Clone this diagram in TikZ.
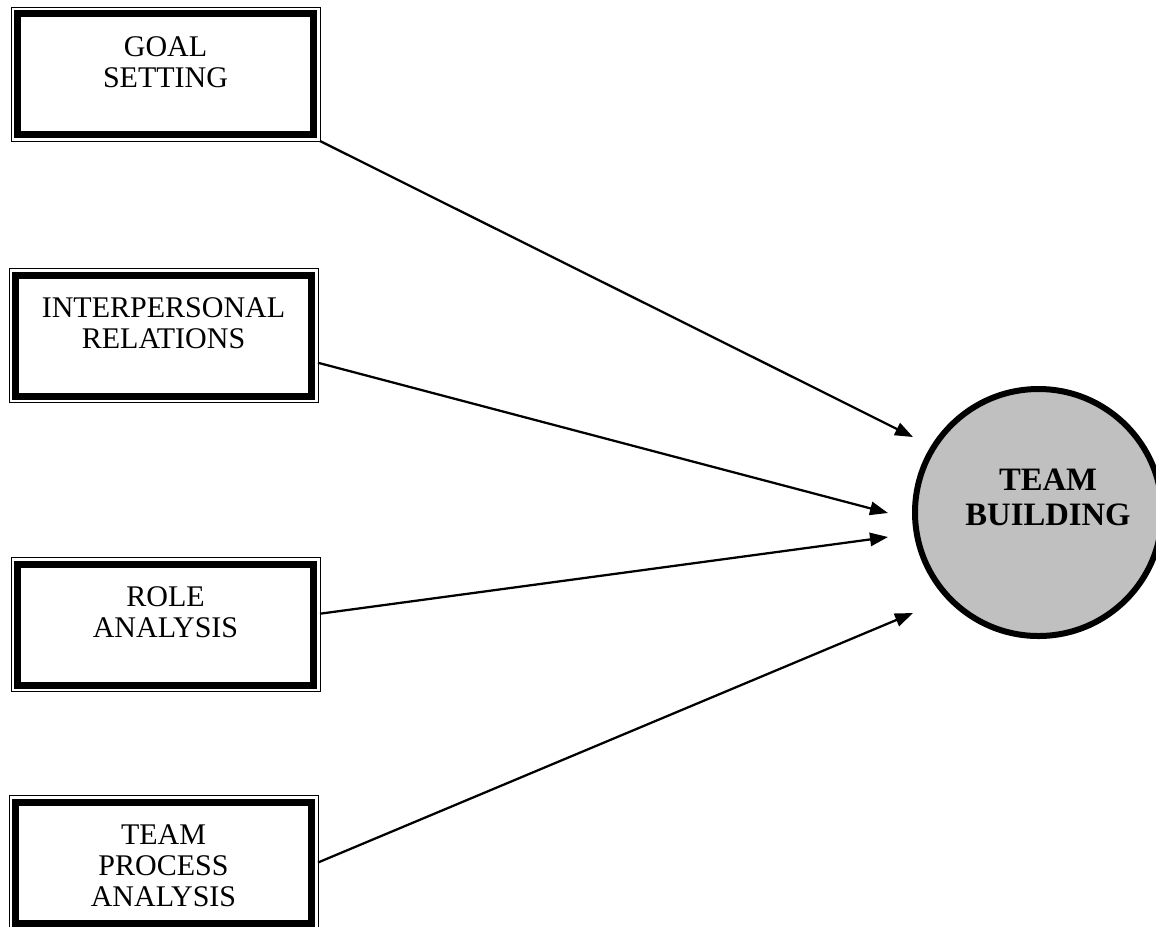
\documentclass[tikz,border=0pt]{standalone}
\usepackage{fontspec}
\setmainfont{Liberation Serif}
\usetikzlibrary{arrows.meta}
\definecolor{tbgray}{RGB}{192,192,192}
\begin{document}
\begin{tikzpicture}[x=0.75pt,y=-0.75pt,
  frame/.style={draw=black, line width=0.75pt, rectangle, outer sep=0pt, inner sep=0pt,
    minimum width=231.75pt, minimum height=100.5pt},
  thickframe/.style={draw=black, line width=5.25pt},
  lbl/.style={align=center, inner sep=0pt, anchor=north,
    font=\fontsize{22.5}{23.25}\selectfont},
  arr/.style={draw=black, line width=1.7pt, -{Triangle[length=13.5pt,width=10pt]}},
  hub/.style={circle, draw=black, line width=4.5pt, fill=tbgray, minimum size=185.25pt, inner sep=0pt},
  hublbl/.style={align=center, inner sep=0pt, font=\bfseries\fontsize{24.5}{26.25}\selectfont}
]
\useasboundingbox (0,0) rectangle (1156,926);

% boxes (outer thin frames)
\node[frame] (goal)  at (165.5,74)    {};
\node[frame] (inter) at (163.5,335.5) {};
\node[frame] (role)  at (165.5,624.5) {};
\node[frame] (proc)  at (163.5,862.5) {};

% inner thick frames
\foreach \n in {goal,inter,role,proc}
  \draw[thickframe] ([shift={(6.5,6.5)}]\n.north west) rectangle ([shift={(-6.5,-6.5)}]\n.south east);

% labels
\node[lbl] (goalt)  at ([yshift=-21.75pt]goal.north)  {GOAL\\SETTING};
\node[lbl] (intert) at ([yshift=-21.75pt]inter.north) {INTERPERSONAL\\RELATIONS};
\node[lbl] (rolet)  at ([yshift=-21.75pt]role.north)  {ROLE\\ANALYSIS};
\node[lbl] (proct)  at ([yshift=-21.75pt]proc.north)  {TEAM\\PROCESS\\ANALYSIS};

% hub
\node[hub] (tb) at (1038.5,512.5) {};
\node[hublbl] (tbt) at (1048,497.5) {TEAM\\BUILDING};

% arrow tips
\coordinate (t1) at (913,437);
\coordinate (t2) at (888,513);
\coordinate (t3) at (888,537);
\coordinate (t4) at (913,613);

\draw[arr] (goal.south east) -- (t1);
\draw[arr] (inter.-10) -- (t2);
\draw[arr] (role.4) -- (t3);
\draw[arr] (proc.east) -- (t4);
\end{tikzpicture}
\end{document}
